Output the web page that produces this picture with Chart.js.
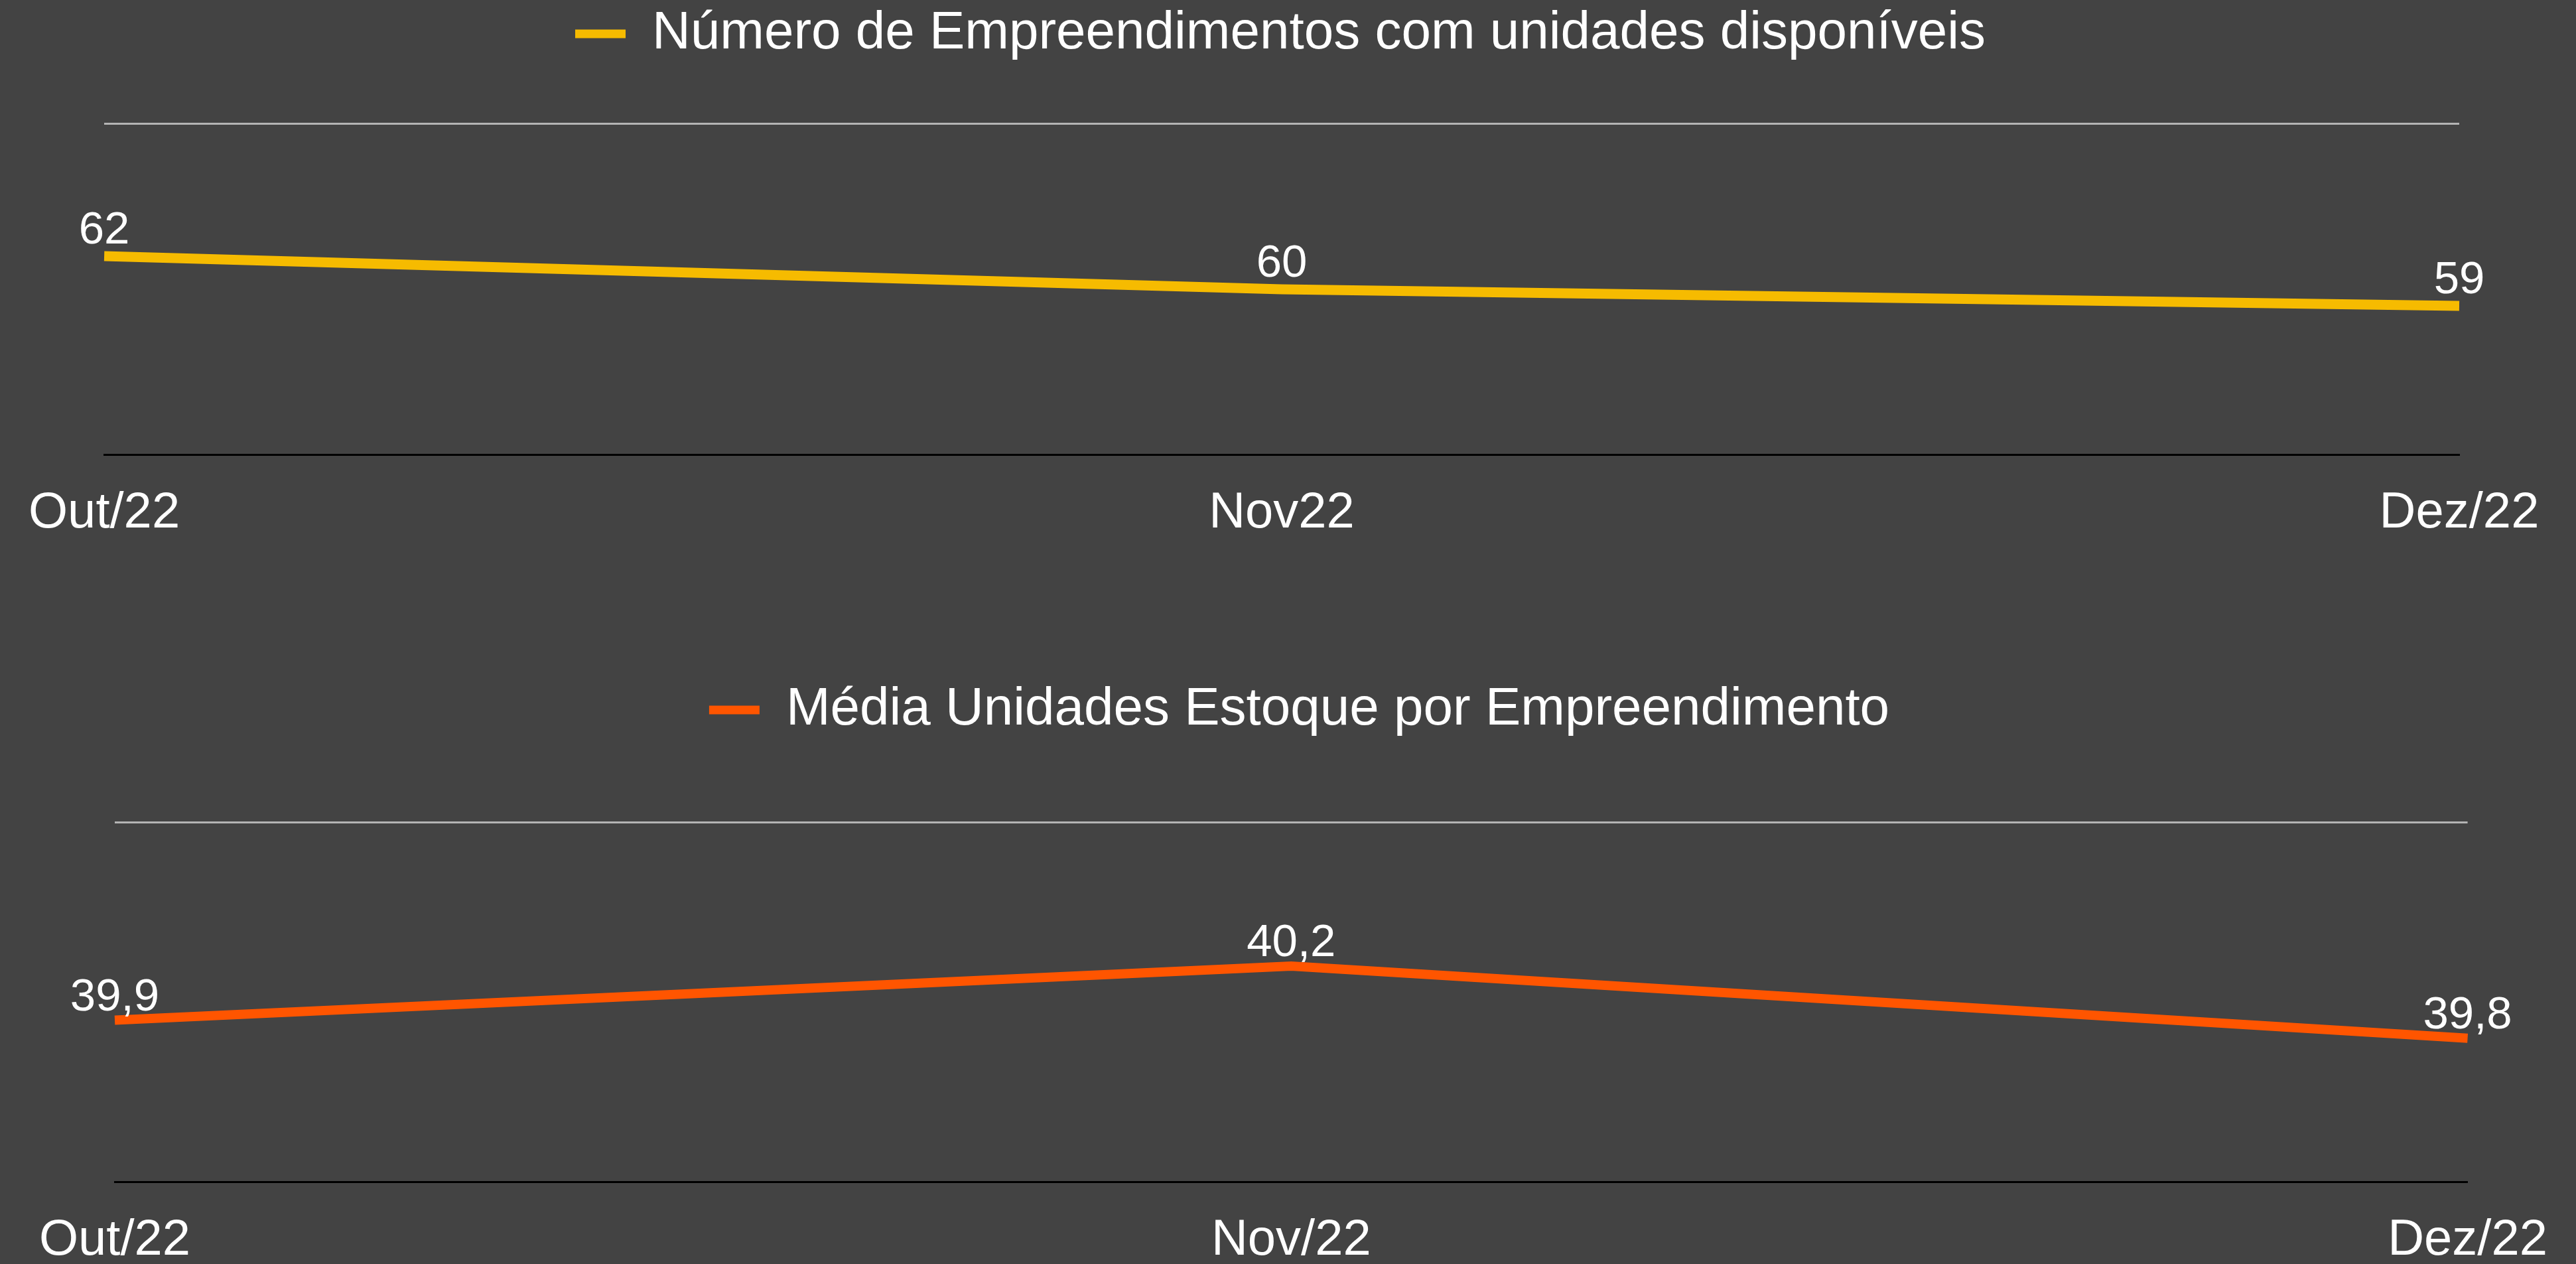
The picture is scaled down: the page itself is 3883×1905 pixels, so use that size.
<!DOCTYPE html>
<html>
<head>
<meta charset="utf-8">
<script src="https://cdn.jsdelivr.net/npm/chart.js@4/dist/chart.umd.min.js"></script>
<style>
  html, body { margin: 0; padding: 0; background: #434343; overflow: hidden; }
  body { width: 3883px; height: 1905px; position: relative; }
  canvas { position: absolute; left: 0; }
  #empreendimentos_chart { top: 1px; }
  #estoque_chart { top: 1020px; }
</style>
</head>
<body>
<canvas id="empreendimentos_chart" width="3883" height="862"></canvas>
<canvas id="estoque_chart" width="3883" height="939"></canvas>
<script>
const meses_topo = ["Out/22", "Nov22", "Dez/22"];
const meses_baixo = ["Out/22", "Nov/22", "Dez/22"];
const num_empreendimentos = [62, 60, 59];
const media_estoque = [39.9, 40.2, 39.8];
const eixo_topo = [50, 70];
const eixo_baixo = [39, 41];
const legenda_topo = "Número de Empreendimentos com unidades disponíveis";
const legenda_baixo = "Média Unidades Estoque por Empreendimento";

const FONT = '"Liberation Sans", Arial, Helvetica, sans-serif';

// writes the value above each point
const value_labels = {
  id: 'value_labels',
  afterDatasetsDraw(chart, args, opts) {
    let ctx = chart.ctx;
    chart.data.datasets.forEach((ds, i) => {
      chart.getDatasetMeta(i).data.forEach((pt, j) => {
        ctx.save();
        ctx.font = opts.size + 'px ' + FONT;
        ctx.fillStyle = '#ffffff';
        ctx.textAlign = 'center';
        ctx.textBaseline = 'alphabetic';
        ctx.fillText(String(ds.data[j]).replace('.', ','), pt.x, pt.y - opts.offset);
        ctx.restore();
      });
    });
  }
};

function draw_line_chart(canvas_id, labels, values, label, color, line_width, axis, pad, space_top, label_offset) {
  var ctx = document.getElementById(canvas_id).getContext('2d');
  return new Chart(ctx, {
    type: 'line',
    data: {
      labels: labels,
      datasets: [{
        label: label,
        data: values,
        borderColor: color,
        backgroundColor: color,
        borderWidth: line_width,
        borderCapStyle: 'butt',
        pointRadius: 0,
        tension: 0
      }]
    },
    options: {
      responsive: false,
      animation: false,
      devicePixelRatio: 1,
      layout: { padding: { left: pad[0], right: pad[1], top: 0, bottom: 0 } },
      plugins: {
        tooltip: { enabled: false },
        legend: {
          position: 'top',
          labels: {
            color: '#ffffff',
            font: { family: FONT, size: 80 },
            boxWidth: 76,
            boxHeight: 13,
            padding: 10,
            generateLabels: (chart) => Chart.defaults.plugins.legend.labels.generateLabels(chart)
              .map(l => Object.assign(l, { lineWidth: 0, fillStyle: color }))
          }
        },
        value_labels: { size: 69, offset: label_offset }
      },
      scales: {
        x: {
          grid: { display: false, drawTicks: false },
          border: { display: true, color: '#000000', width: 3 },
          ticks: {
            color: '#ffffff',
            font: { family: FONT, size: 76 },
            padding: 43,
            maxRotation: 0,
            autoSkip: false
          }
        },
        espaco: {
          type: 'category',
          position: 'top',
          grid: { display: false, drawTicks: false },
          border: { display: false },
          ticks: { display: false },
          afterFit: (s) => { s.height = space_top; }
        },
        y: {
          min: axis[0],
          max: axis[1],
          grid: {
            drawTicks: false,
            lineWidth: 3,
            color: (c) => c.tick && c.tick.value === axis[1] ? '#b4b4b4' : 'rgba(0,0,0,0)'
          },
          border: { display: false },
          ticks: { display: false, stepSize: axis[1] - axis[0] }
        }
      }
    },
    plugins: [value_labels]
  });
}

draw_line_chart("empreendimentos_chart", meses_topo, num_empreendimentos, legenda_topo,
  "#f6bb00", 15, eixo_topo, [153, 176], 85, 19);

draw_line_chart("estoque_chart", meses_baixo, media_estoque, legenda_baixo,
  "#ff5500", 14, eixo_baixo, [173, 139], 119, 15);
</script>
</body>
</html>
